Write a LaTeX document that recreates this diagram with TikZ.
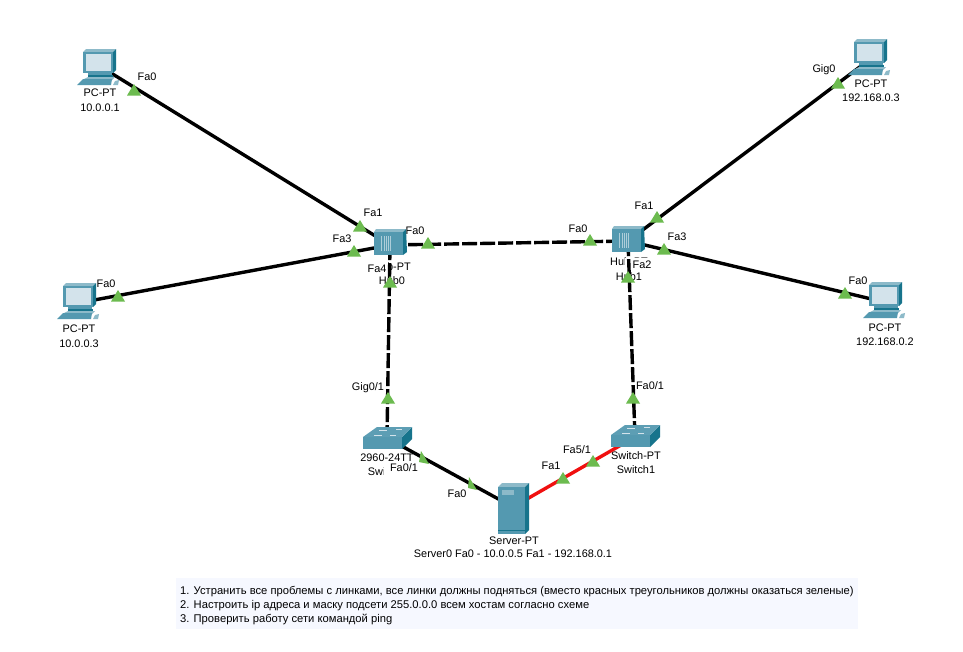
\documentclass[tikz,border=0pt]{standalone}
\usepackage{fontspec}
\setmainfont{Liberation Sans}
\definecolor{frontc}{HTML}{5499B0}
\definecolor{sidec}{HTML}{17748C}
\definecolor{topc}{HTML}{8DBAC9}
\definecolor{screenc}{HTML}{D3E3EB}
\definecolor{trig}{HTML}{6CBB4F}
\definecolor{notebg}{HTML}{F6F8FF}
\definecolor{linkred}{HTML}{F01010}
\tikzset{
  x=1pt,y=-1pt,
  lbl/.style={font=\fontsize{10.9}{13}\selectfont,inner sep=0pt,text=black},
  notetxt/.style={font=\fontsize{11.2}{13}\selectfont,inner sep=0pt,text=black,anchor=base west},
  port/.style={lbl,fill=white,inner sep=1pt},
  coverport/.style={lbl,fill=white,inner xsep=6pt,inner ysep=3.5pt},
  dev/.style={inner sep=0pt,minimum size=0pt},
  link/.style={line width=3.4pt,black},
  dlink/.style={link,dash pattern=on 15pt off 3pt},
  rlink/.style={line width=3.4pt,linkred},
  tri/.pic={\fill[trig] (-7,5.5)--(0,-6)--(7,5.5)--cycle;},
  pcicon/.pic={
    \fill[topc] (-15,-15)--(-12,-18)--(18,-18)--(15,-15)--cycle;
    \fill[sidec] (15,-15)--(18,-18)--(18,3)--(15,6)--cycle;
    \fill[frontc] (-15,-15) rectangle (15,6);
    \fill[screenc] (-12.5,-13) rectangle (12.5,3.5);
    \fill[frontc] (-10,6) rectangle (14,9);
    \fill[sidec] (-10,8) rectangle (15,10);
    \fill[topc] (-14,12)--(-10,10)--(17,10)--(14,13)--cycle;
    \fill[frontc] (-21,18)--(-15,12)--(14,12)--(13,18)--cycle;
    \fill[topc] (15,18)--(17,14)--(21,13)--(20,18)--cycle;
  },
  hubicon/.pic={
    \fill[topc] (-15,-11)--(-13,-14)--(17,-14)--(14,-11)--cycle;
    \fill[sidec] (14,-11)--(17,-14)--(18,9)--(14,12)--cycle;
    \fill[frontc] (-15,-11) rectangle (14,12);
    \foreach \q in {-8,-5,-3,-1,1}{\draw[screenc!70!frontc,line width=.8pt] (\q,-7)--(\q,8);}
  },
  swicon/.pic={
    \fill[frontc] (-24,-1)--(-24,11)--(15,11)--(15,-1)--cycle;
    \fill[sidec] (15,-1)--(25,-11)--(25,1)--(15,11)--cycle;
    \fill[frontc!85!topc] (-24,-1)--(-10,-11)--(25,-11)--(15,-1)--cycle;
    \draw[screenc,line width=.7pt] (-13,-3)--(-5,-3) (-8,-8)--(0,-8) (3,-3)--(9,-3) (9,-9)--(15,-9);
  },
  srvicon/.pic={
    \fill[topc] (-15,-21)--(-11,-25)--(16,-25)--(12,-21)--cycle;
    \fill[sidec] (12,-21)--(16,-25)--(16,22)--(12,26)--cycle;
    \fill[frontc] (-15,-21) rectangle (12,26);
    \fill[topc] (-11,-18) rectangle (1,-13);
    \draw[sidec,line width=.6pt] (-15,22)--(12,22);
  },
}
\begin{document}
\begin{tikzpicture}
\useasboundingbox (0,0) rectangle (963,651);
\fill[white] (0,0) rectangle (963,651);
% device anchors
\node[dev] (pca) at (98,65) {};
\node[dev] (pcb) at (78,303) {};
\node[dev] (pcc) at (869,60) {};
\node[dev] (pcd) at (884,302) {};
\node[dev] (hubz) at (390,245) {};
\node[dev] (huba) at (628,241) {};
\node[dev] (swz) at (387,438) {};
\node[dev] (swa) at (635,437) {};
\node[dev] (srv) at (513,507) {};
% device labels
\node[lbl] (t1) at (100,93) {PC-PT};
\node[lbl] (t2) at (100,108) {10.0.0.1};
\node[lbl] (t3) at (79,329) {PC-PT};
\node[lbl] (t4) at (79,344) {10.0.0.3};
\node[lbl] (t5) at (871,84) {PC-PT};
\node[lbl] (t6) at (871,98) {192.168.0.3};
\node[lbl] (t7) at (885,328) {PC-PT};
\node[lbl] (t8) at (885,342) {192.168.0.2};
\node[lbl] (t9) at (392,267) {Hub-PT};
\node[lbl] (t10) at (392,281) {Hub0};
\node[lbl] (t11) at (629,262) {Hub-PT};
\node[lbl] (t12) at (629,277) {Hub1};
\node[lbl] (t13) at (387,458) {2960-24TT};
\node[lbl] (t14) at (387,472) {Switch0};
\node[lbl] (t15) at (636,456) {Switch-PT};
\node[lbl] (t16) at (636,470) {Switch1};
\node[lbl] (t17) at (514,541) {Server-PT};
\node[lbl] (t18) at (513,554) {Server0 Fa0 - 10.0.0.5 Fa1 - 192.168.0.1};
% port labels
\node[port] (p1) at (147,77) {Fa0};
\node[port] (p2) at (373,213) {Fa1};
\node[port] (p3) at (342,239) {Fa3};
\node[port] (p4) at (415,231) {Fa0};
\node[coverport,inner xsep=2pt] (p5) at (377,269) {Fa4};
\node[port] (p6) at (578,229) {Fa0};
\node[port] (p7) at (644,206) {Fa1};
\node[port] (p8) at (677,237) {Fa3};
\node[coverport,inner xsep=8pt] (p9) at (642,265) {Fa2};
\node[port] (p10) at (824,70) {Gig0};
\node[port] (p11) at (858,281) {Fa0};
\node[port] (p12) at (368,388) {Gig0/1};
\node[port] (p13) at (650,386) {Fa0/1};
\node[coverport] (p14) at (404,468) {Fa0/1};
\node[port] (p15) at (457,494) {Fa0};
\node[port] (p16) at (551,466) {Fa1};
\node[port] (p17) at (577,450) {Fa5/1};
\node[port] (p18) at (106,284) {Fa0};
% links
\draw[link] (pca) -- (hubz);
\draw[link] (pcb) -- (hubz);
\draw[link] (pcc) -- (huba);
\draw[link] (pcd) -- (huba);
\draw[dlink] (hubz) -- (huba);
\draw[dlink] (hubz) -- (swz);
\draw[dlink] (huba) -- (swa);
\draw[link] (swz) -- (srv);
\draw[rlink] (srv) -- (swa);
% link-state triangles
\foreach \x/\y in {134/90,360/226,118/296,354/251,428/243,390/282,590/240,628/277,657/217,664/249,838/83,845/293,388/398,633/398,563/478,593/461}{
  \pic at (\x,\y) {tri};
}
\fill[trig] (421,451)--(429,464)--(419,462)--cycle;
\fill[trig] (469,477)--(477,490)--(468,488)--cycle;
% icons
\pic at (98,67) {pcicon};
\pic at (78,301) {pcicon};
\pic at (869,57) {pcicon};
\pic at (884,300) {pcicon};
\pic at (389,243) {hubicon};
\pic at (627,240) {hubicon};
\pic at (387,438) {swicon};
\pic at (635,436) {swicon};
\pic at (513,508) {srvicon};
% note
\fill[notebg] (176,578) rectangle (858,629);
\node[notetxt] (n1) at (180,594) {1. Устранить все проблемы с линками, все линки должны подняться (вместо красных треугольников должны оказаться зеленые)};
\node[notetxt] (n2) at (180,608) {2. Настроить ip адреса и маску подсети 255.0.0.0 всем хостам согласно схеме};
\node[notetxt] (n3) at (180,622) {3. Проверить работу сети командой ping};
\end{tikzpicture}
\end{document}
